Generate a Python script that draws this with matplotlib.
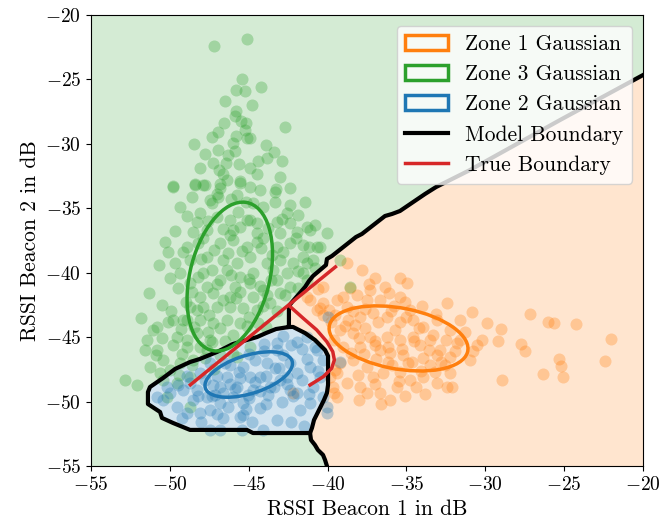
import matplotlib
matplotlib.use("Agg")
import matplotlib.pyplot as plt
from matplotlib.patches import Ellipse, Polygon
from matplotlib.lines import Line2D

plt.rcParams['font.family'] = 'serif'
plt.rcParams['font.serif'] = ['cmr10']
plt.rcParams['mathtext.fontset'] = 'cm'
plt.rcParams['axes.formatter.use_mathtext'] = True
plt.rcParams['font.size'] = 14

# ---------------- data ----------------
zone3_x = [-47.18, -45.13, -45.41, -45.81, -45.24, -44.24, -45.81, -45.87, -46.57, -45.19, -42.70, -46.97,
           -47.35, -45.81, -45.24, -45.13, -44.92, -43.90, -47.77, -46.93, -45.87, -46.29, -47.25, -46.46,
           -43.82, -42.91, -44.92, -44.49, -46.61, -45.55, -46.40, -49.78, -48.41, -47.88, -46.82, -43.27,
           -49.78, -48.41, -47.77, -46.82, -45.55, -44.92, -43.33, -48.61, -47.45, -46.93, -45.76, -49.36,
           -48.09, -47.35, -44.71, -44.07, -43.33, -42.38, -41.43, -42.59, -48.30, -47.03, -46.19, -45.13,
           -44.49, -43.22, -42.38, -41.32, -40.80, -40.05, -48.51, -47.66, -45.98, -45.55, -44.49, -43.02,
           -41.96, -41.11, -50.10, -49.15, -48.20, -46.82, -45.98, -45.13, -44.49, -43.22, -42.38, -41.54,
           -40.48, -49.67, -48.72, -47.66, -46.61, -45.76, -44.92, -43.86, -43.02, -42.17, -41.32, -40.80,
           -49.36, -48.20, -47.35, -46.40, -45.55, -44.71, -43.44, -42.59, -41.54, -48.72, -47.66, -46.82,
           -45.87, -44.92, -44.07, -43.22, -42.38, -48.09, -47.25, -46.19, -45.55, -44.71, -43.86, -43.02,
           -48.72, -47.88, -47.03, -46.19, -45.34, -44.49, -43.65, -49.78, -50.83, -48.93, -48.09, -47.25,
           -46.40, -45.55, -52.84, -52.10, -51.47, -51.05, -50.10, -49.15, -50.83, -50.42, -51.26, -49.57,
           -48.93, -48.30, -49.99, -49.36, -48.51, -47.66, -47.45, -46.82, -50.42, -49.57, -48.72, -45.76,
           -44.92, -50.20, -48.72, -38.58, -39.21, -40.69, -41.54, -41.32,
           -48.9, -48.0, -47.2, -46.3, -45.4, -44.2, -43.5, -42.8, -49.5, -48.6, -47.9, -47.0,
           -46.1, -45.0, -44.3, -43.6, -49.0, -48.3, -47.5, -46.6, -45.8, -45.0, -44.1, -43.2,
           -49.9, -49.3, -48.5, -47.6, -46.8, -46.0, -45.1, -44.4, -50.5, -49.8, -48.9, -48.1,
           -47.3, -46.5, -50.9, -49.2, -48.6, -47.8, -51.6, -50.6, -49.4, -47.2, -46.0, -43.9,
           -47.6, -46.6, -45.7, -44.9, -43.8, -42.9, -41.9, -47.9, -46.2, -44.1, -42.0, -41.2,
           -40.9, -41.9, -42.7, -41.9, -47.0, -46.1, -45.2, -44.3, -48.9, -49.7, -50.3, -50.7,
           -50.0, -51.3, -50.5, -51.8, -46.9, -45.6, -44.4, -46.0, -45.5, -44.8, -46.5, -48.1,
           -43.4, -43.0, -42.4, -48.5]
zone3_y = [-22.41, -21.89, -24.99, -25.82, -25.90, -25.61, -27.45, -27.84, -28.36, -28.36, -28.71, -29.06,
           -29.49, -29.39, -28.92, -29.57, -29.57, -30.09, -30.79, -30.48, -30.53, -30.86, -31.46, -31.46,
           -31.12, -31.31, -31.90, -32.34, -32.34, -32.86, -32.80, -33.25, -33.12, -33.19, -33.12, -33.50,
           -33.32, -33.19, -33.19, -33.45, -33.06, -33.32, -33.71, -34.10, -34.36, -34.10, -33.97, -34.88,
           -35.39, -34.61, -34.61, -34.88, -34.49, -34.74, -34.49, -35.39, -36.04, -35.65, -35.91, -35.91,
           -36.16, -36.04, -36.16, -36.43, -36.30, -36.89, -36.82, -36.68, -36.68, -36.43, -36.94, -36.94,
           -36.82, -36.68, -38.37, -38.37, -37.72, -37.72, -37.46, -37.98, -37.59, -37.98, -37.72, -37.85,
           -37.98, -39.27, -39.01, -38.76, -39.01, -39.27, -38.76, -39.27, -39.01, -39.27, -39.27, -39.66,
           -40.04, -40.31, -39.79, -39.79, -40.31, -40.04, -39.79, -40.04, -40.04, -40.82, -41.08, -40.56,
           -41.08, -40.82, -41.34, -40.56, -41.08, -41.86, -41.60, -41.86, -41.47, -41.86, -41.73, -41.60,
           -42.64, -42.64, -42.64, -42.64, -42.76, -42.89, -42.37, -43.67, -44.19, -43.67, -43.67, -43.92,
           -43.67, -43.92, -48.32, -48.71, -45.22, -44.44, -43.80, -43.67, -46.00, -46.77, -47.29, -44.96,
           -45.74, -44.70, -47.55, -47.03, -46.77, -46.00, -45.22, -46.38, -48.32, -48.58, -48.07, -46.52,
           -45.74, -49.62, -50.40, -41.08, -39.01, -37.98, -38.76, -40.56,
           -38.0, -38.9, -38.2, -38.5, -38.3, -38.1, -38.6, -38.4, -41.2, -41.5, -40.0, -40.9,
           -40.2, -40.5, -41.0, -40.6, -42.3, -42.9, -43.3, -42.1, -42.0, -43.4, -42.6, -43.0,
           -43.0, -44.4, -44.2, -44.6, -44.3, -44.8, -44.1, -43.9, -45.1, -45.6, -45.2, -45.8,
           -45.4, -45.3, -46.4, -46.3, -47.2, -46.6, -46.0, -47.8, -47.9, -47.5, -46.3, -44.2,
           -36.0, -36.6, -35.3, -35.9, -36.5, -35.8, -35.5, -37.3, -37.1, -37.3, -37.3, -38.0,
           -39.0, -39.9, -41.7, -41.2, -33.9, -34.3, -34.5, -33.6, -35.6, -36.8, -37.6, -39.4,
           -40.4, -41.6, -42.5, -43.5, -32.0, -31.6, -31.3, -29.9, -28.2, -27.0, -26.7, -31.9,
           -30.6, -32.6, -33.4, -30.0]

zone2_x = [-41.32, -41.96, -40.69, -40.27, -41.11, -40.48, -40.90, -40.27, -41.11, -41.96, -42.59, -41.96,
           -43.22, -42.81, -43.86, -44.28, -43.65, -44.71, -44.28, -45.34, -45.76, -46.40, -46.82, -45.34,
           -44.92, -45.98, -46.82, -47.45, -47.66, -48.30, -48.51, -48.09, -48.93, -49.57, -50.42, -50.83,
           -49.99, -49.15, -47.25, -46.61, -45.55, -46.82, -44.07, -41.75, -40.05, -40.05, -47.45, -48.09,
           -48.72, -45.34, -42.38, -45.44, -47.45, -46.19, -44.60, -43.33, -45.55, -43.78, -43.02, -47.14,
           -45.04, -39.21, -39.97,
           -47.8, -47.0, -46.2, -45.6, -44.6, -43.9, -43.1, -42.4, -46.6, -45.9, -45.0, -44.3,
           -43.4, -42.6, -41.6, -41.3, -47.3, -46.3, -45.2, -43.9, -42.9, -42.2, -41.2, -40.6,
           -44.0, -43.2, -42.3, -41.6, -45.0, -46.5, -48.9, -49.5, -50.2, -48.2, -47.0, -48.0,
           -49.2, -44.8, -43.2, -42.3, -41.5, -44.0, -42.8, -40.8]
zone2_y = [-44.96, -45.35, -46.00, -46.77, -47.29, -48.07, -48.84, -49.62, -50.13, -49.36, -48.07, -47.80,
           -45.48, -46.38, -47.03, -48.07, -48.84, -49.10, -50.52, -50.13, -48.84, -48.07, -48.84, -47.29,
           -48.07, -49.62, -50.13, -50.65, -49.62, -49.10, -49.88, -50.91, -50.91, -50.40, -49.88, -49.62,
           -49.36, -49.10, -48.71, -51.30, -51.17, -52.20, -52.20, -50.65, -50.40, -50.91, -47.03, -47.80,
           -48.58, -51.04, -49.10, -52.20, -52.20, -47.16, -46.77, -47.39, -48.17, -49.49, -48.32, -49.49,
           -49.49, -46.93, -43.43,
           -48.3, -48.0, -48.6, -47.7, -48.5, -48.0, -47.4, -47.0, -49.3, -49.0, -49.7, -49.2,
           -48.9, -48.6, -48.3, -46.7, -49.6, -50.4, -50.6, -50.2, -50.0, -49.6, -49.4, -47.6,
           -46.1, -46.0, -45.6, -45.9, -46.3, -47.0, -48.0, -48.7, -48.9, -49.6, -51.0, -51.6,
           -51.3, -51.6, -51.4, -51.6, -51.9, -45.5, -44.9, -45.8]

zone1_x = [-38.79, -37.83, -36.99, -36.36, -35.41, -34.98, -37.31, -38.15, -39.00, -39.42, -40.27, -41.11,
           -35.41, -35.09, -36.67, -37.52, -38.79, -39.53, -40.27, -40.69, -38.68, -37.94, -37.10, -36.25,
           -35.41, -34.56, -33.93, -33.08, -32.44, -31.60, -30.86, -32.24, -39.21, -38.37, -37.31, -36.25,
           -35.41, -34.56, -33.50, -32.87, -31.81, -30.97, -39.00, -37.94, -36.67, -36.04, -35.20, -34.66,
           -33.93, -33.08, -32.24, -39.21, -38.37, -37.52, -37.10, -36.47, -35.41, -34.77, -33.93, -33.08,
           -32.24, -32.44, -39.42, -38.79, -37.94, -37.52, -36.67, -36.04, -35.62, -39.64, -39.42, -29.91,
           -29.02, -30.19, -29.21, -27.16, -26.00, -25.62, -24.27, -27.73, -27.48, -25.34, -25.22, -26.36,
           -25.05, -28.96, -22.01, -22.41, -32.13, -30.76, -35.72, -34.14, -36.99, -32.55, -31.60, -38.26,
           -34.77, -33.50, -36.17, -37.63, -40.29, -41.30, -40.48, -39.53, -39.85, -42.19,
           -38.4, -37.6, -36.8, -36.0, -35.0, -34.2, -33.3, -32.5, -38.9, -38.0, -37.0, -36.2,
           -35.3, -34.5, -33.6, -32.8, -38.5, -37.7, -36.9, -35.9, -34.9, -34.1, -33.2, -31.9,
           -39.6, -39.8, -38.1, -37.0, -35.5, -34.4, -38.6, -37.4, -36.1, -35.8, -34.0, -33.1,
           -31.3, -30.5, -39.9, -40.6, -39.6, -38.0, -36.6, -35.1, -33.8]
zone1_y = [-39.27, -39.79, -40.43, -41.08, -40.43, -40.82, -41.34, -41.73, -41.86, -42.12, -42.37, -42.12,
           -41.86, -42.25, -42.12, -42.12, -42.64, -43.28, -43.28, -42.89, -43.67, -43.41, -43.15, -43.41,
           -43.80, -43.67, -44.19, -43.67, -42.37, -43.67, -43.02, -44.44, -44.44, -44.70, -44.96, -44.96,
           -45.22, -44.96, -45.22, -46.00, -45.48, -46.77, -45.74, -45.74, -46.00, -46.25, -46.38, -46.90,
           -46.64, -46.38, -46.52, -47.03, -46.77, -47.29, -48.07, -47.80, -47.68, -48.32, -48.07, -48.58,
           -47.80, -48.84, -47.80, -48.58, -48.84, -49.36, -49.36, -49.88, -48.84, -48.84, -49.62, -43.92,
           -44.37, -45.22, -45.30, -43.20, -43.80, -43.88, -44.00, -45.53, -46.05, -46.69, -47.21, -47.88,
           -48.07, -48.32, -45.17, -46.85, -48.84, -46.09, -44.44, -45.61, -45.61, -47.16, -45.22, -44.06,
           -42.89, -47.16, -46.93, -44.29, -41.11, -41.88, -42.74, -47.55, -48.09, -49.33,
           -43.0, -42.8, -43.8, -43.0, -43.4, -44.3, -44.8, -45.2, -44.1, -45.1, -45.3, -45.8,
           -45.9, -45.3, -46.0, -46.9, -46.2, -46.3, -46.7, -47.2, -47.0, -47.6, -47.7, -46.1,
           -45.2, -43.8, -47.9, -48.6, -48.4, -48.9, -41.2, -40.9, -41.6, -42.6, -42.6, -43.2,
           -44.6, -45.6, -42.9, -41.3, -49.3, -49.9, -50.2, -49.6, -49.4]

# Gaussian ellipses: centre, (width, height, angle) in data units / degrees
zone1_center = (-35.5, -45.1)
zone1_size = (9.0, 4.7, -14)
zone3_center = (-46.2, -40.3)
zone3_size = (11.7, 5.1, 80)
zone2_center = (-45.0, -47.9)
zone2_size = (5.9, 2.9, 23)

# Model boundary (green / orange), from right edge down to the zone 2 region
upper_x = [-20.0, -25.26, -30.97, -33.12, -33.82, -35.41, -35.91, -36.36, -37.82, -38.20, -39.72, -40.04,
           -40.10, -40.92, -41.18, -41.43, -42.25, -42.45, -42.45]
upper_y = [-24.66, -28.15, -32.03, -33.35, -33.89, -35.21, -35.44, -35.60, -36.99, -37.23, -38.70, -38.93,
           -39.40, -40.25, -40.64, -41.11, -42.27, -42.58, -44.21]
# Zone 2 region: top-left edge and bottom
blue_left_x = [-42.45, -43.27, -43.90, -44.47, -45.11, -46.00, -46.50, -47.01, -48.09, -48.72, -49.67,
               -50.43, -51.26, -51.39, -51.39, -50.62, -50.50, -49.80, -48.72, -45.11, -44.73, -41.11]
blue_left_y = [-44.21, -44.37, -44.68, -44.99, -45.22, -45.53, -45.84, -46.15, -46.69, -46.93, -47.47,
               -48.17, -48.87, -49.26, -50.19, -50.81, -51.27, -51.66, -52.20, -52.20, -52.44, -52.44]
# Zone 2 region: right edge (bottom to top)
blue_right_x = [-40.99, -40.86, -40.48, -40.23, -40.04, -39.97, -39.97, -40.16, -40.80, -41.43, -42.19]
blue_right_y = [-52.05, -51.43, -50.50, -49.88, -49.33, -48.71, -46.46, -46.00, -45.22, -44.68, -44.21]
# Model boundary below the zone 2 region
lower_x = [-41.11, -41.05, -40.80, -40.61, -40.29, -40.16, -40.04]
lower_y = [-52.44, -52.98, -53.37, -53.76, -54.14, -54.53, -55.0]

# True boundary
true_line_x = [-48.7, -39.5]
true_line_y = [-48.7, -39.55]
true_curve_x = [-42.4, -41.54, -40.69, -40.05, -39.67, -39.57, -39.74, -40.27, -41.11]
true_curve_y = [-42.6, -43.54, -44.44, -45.35, -46.13, -46.77, -47.42, -48.07, -48.71]

xticks = [-55, -50, -45, -40, -35, -30, -25, -20]
yticks = [-55, -50, -45, -40, -35, -30, -25, -20]

# ---------------- plot ----------------
C1, C2, C3 = '#ff7f0e', '#1f77b4', '#2ca02c'
fig = plt.figure(figsize=(6.64, 5.25), dpi=100)
ax = fig.add_axes([91/664, 1-466/525, (643-91)/664, (466-15)/525])
ax.set_facecolor('#d4ebd4')
ax.set_xlim(-55, -20)
ax.set_ylim(-55, -20)

# regions
orange_x = upper_x + blue_right_x[::-1] + lower_x + [-20.0]
orange_y = upper_y + blue_right_y[::-1] + lower_y + [-55.0]
ax.add_patch(Polygon(list(zip(orange_x, orange_y)), closed=True, facecolor='#ffe5cf', edgecolor='none', zorder=0.5))
bx = blue_left_x + blue_right_x
by = blue_left_y + blue_right_y
ax.add_patch(Polygon(list(zip(bx, by)), closed=True, facecolor='#d2e4f0', edgecolor='none', zorder=0.5))

# scatter
ax.scatter(zone1_x, zone1_y, s=75, color=C1, alpha=0.3, linewidths=0, zorder=1)
ax.scatter(zone3_x, zone3_y, s=75, color=C3, alpha=0.3, linewidths=0, zorder=1)
ax.scatter(zone2_x, zone2_y, s=75, color=C2, alpha=0.3, linewidths=0, zorder=1)

# model boundary lines
ax.plot(upper_x, upper_y, color='black', lw=3, zorder=2, solid_joinstyle='round')
ax.plot(bx + [bx[0]], by + [by[0]], color='black', lw=3, zorder=2, solid_joinstyle='round')
ax.plot(lower_x, lower_y, color='black', lw=3, zorder=2, solid_joinstyle='round')

# gaussians
e1 = Ellipse(zone1_center, zone1_size[0], zone1_size[1], angle=zone1_size[2], fill=False, edgecolor=C1, lw=2.5, zorder=3, label='Zone 1 Gaussian')
e3 = Ellipse(zone3_center, zone3_size[0], zone3_size[1], angle=zone3_size[2], fill=False, edgecolor=C3, lw=2.5, zorder=3, label='Zone 3 Gaussian')
e2 = Ellipse(zone2_center, zone2_size[0], zone2_size[1], angle=zone2_size[2], fill=False, edgecolor=C2, lw=2.5, zorder=3, label='Zone 2 Gaussian')
for e in (e1, e3, e2):
    ax.add_patch(e)

# true boundary
ax.plot(true_line_x, true_line_y, color='#d62728', lw=2.5, zorder=4)
ax.plot(true_curve_x, true_curve_y, color='#d62728', lw=2.5, zorder=4)

h_model = Line2D([], [], color='black', lw=3, label='Model Boundary')
h_true = Line2D([], [], color='#d62728', lw=2.5, label='True Boundary')
ax.legend(handles=[e1, e3, e2, h_model, h_true], loc='upper right', fontsize=15.5)

ax.set_xticks(xticks)
ax.set_yticks(yticks)
ax.set_xlabel('RSSI Beacon 1 in dB', fontsize=15.5)
ax.set_ylabel('RSSI Beacon 2 in dB', fontsize=15.5)

fig.savefig('out.png', dpi=100)
